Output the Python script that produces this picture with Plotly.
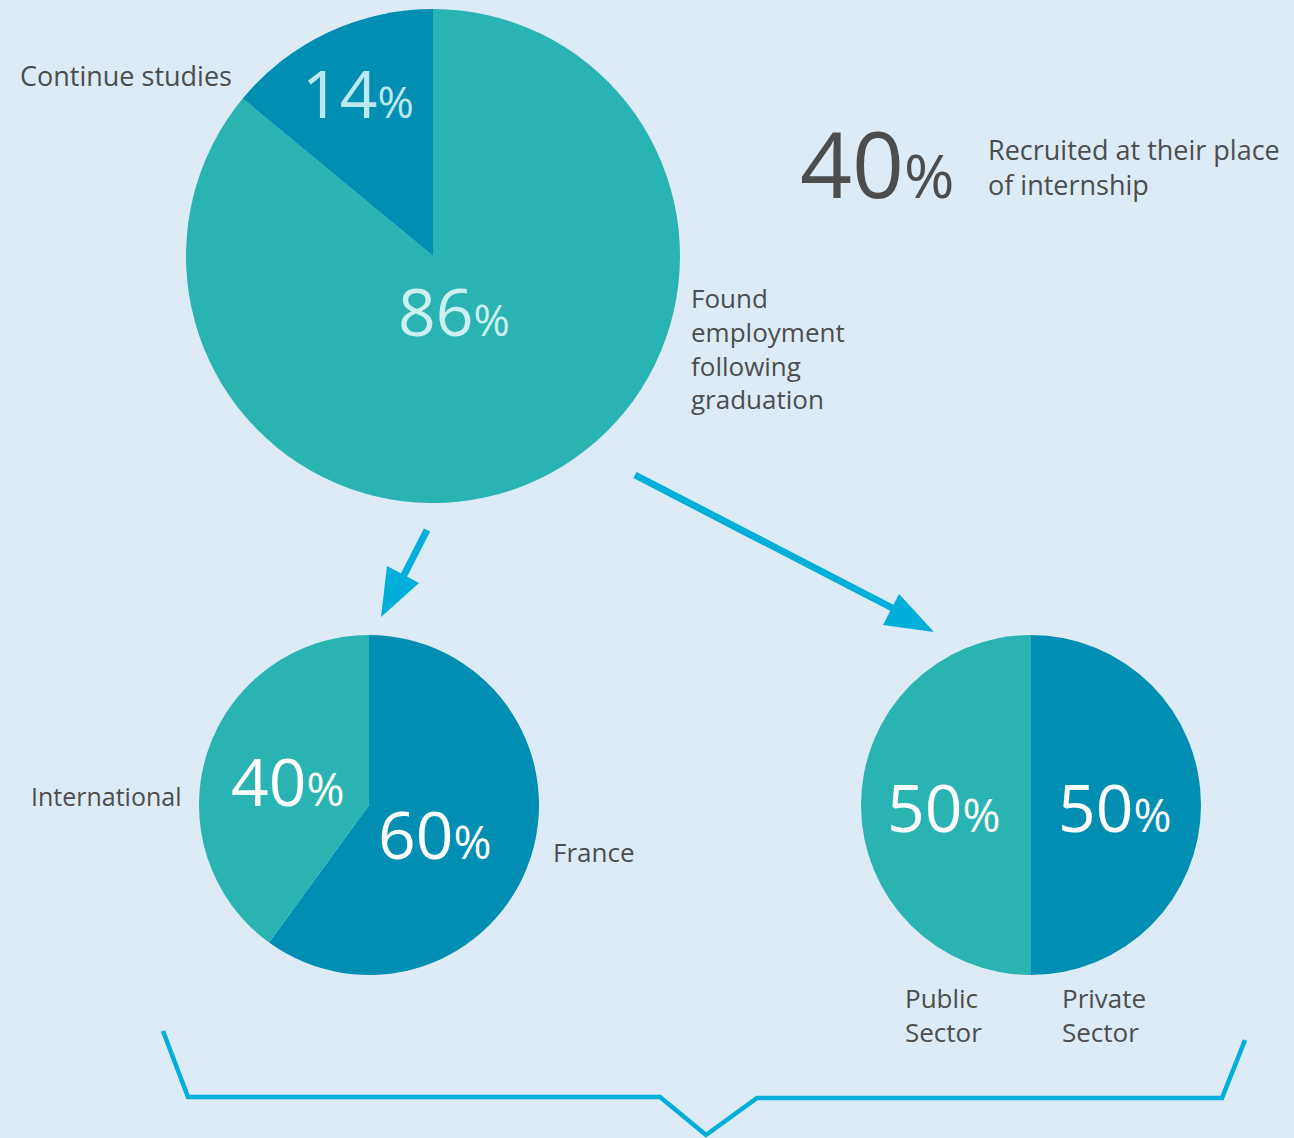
import plotly.graph_objects as go

W, H = 1294, 1138

# ---- data ----
outcome_labels = ["Found employment following graduation", "Continue studies"]
outcome_values = [86, 14]
location_labels = ["France", "International"]
location_values = [60, 40]
sector_labels = ["Private Sector", "Public Sector"]
sector_values = [50, 50]
recruited_pct = 40

TEAL = "#2AB3B3"
DARK = "#008EB2"
BG = "#DCEBF6"
ARROW = "#00AEDA"
TXT = "#4D4D4D"
FONT = "Open Sans"


def px(x):
    return x / W


def py(y):
    return 1 - y / H


fig = go.Figure()

common = dict(sort=False, textinfo="none", hoverinfo="skip", showlegend=False,
              direction="clockwise", rotation=0)

fig.add_trace(go.Pie(labels=outcome_labels, values=outcome_values,
                     marker=dict(colors=[TEAL, DARK], line=dict(width=0)),
                     domain=dict(x=[px(186), px(680)], y=[py(503), py(9)]), **common))
fig.add_trace(go.Pie(labels=location_labels, values=location_values,
                     marker=dict(colors=[DARK, TEAL], line=dict(width=0)),
                     domain=dict(x=[px(199), px(539)], y=[py(975), py(635)]), **common))
fig.add_trace(go.Pie(labels=sector_labels, values=sector_values,
                     marker=dict(colors=[DARK, TEAL], line=dict(width=0)),
                     domain=dict(x=[px(861), px(1201)], y=[py(975), py(635)]), **common))


def pct(v, big, small):
    return f"<span style='font-size:{big}px'>{v}</span><span style='font-size:{small}px'>%</span>"


def ann(x, y, text, size, color, xanchor="left", yanchor="middle", align="left"):
    fig.add_annotation(x=px(x), y=py(y), xref="paper", yref="paper", text=text,
                       showarrow=False, xanchor=xanchor, yanchor=yanchor, align=align,
                       font=dict(family=FONT, size=size, color=color))


# percentages in pies
ann(358, 92, pct(outcome_values[1], 66, 44), 66, "#BEE8F0", xanchor="center")
ann(454, 310, pct(outcome_values[0], 66, 44), 66, "#CDEFF0", xanchor="center")
ann(288, 780, pct(location_values[1], 66, 46), 66, "white", xanchor="center")
ann(435, 833, pct(location_values[0], 66, 46), 66, "white", xanchor="center")
ann(944, 806, pct(sector_values[1], 66, 46), 66, "white", xanchor="center")
ann(1115, 806, pct(sector_values[0], 66, 46), 66, "white", xanchor="center")

# big 40%
ann(877, 163, pct(recruited_pct, 91, 61), 91, TXT, xanchor="center")

# labels
ann(18, 75, outcome_labels[1], 27, TXT)
ann(689, 348, "Found<br>employment<br>following<br>graduation", 26, TXT)
ann(986, 167, "Recruited at their place<br>of internship", 27, TXT)
ann(184, 796, location_labels[1], 25, TXT, xanchor="right", align="right")
ann(551, 852, location_labels[0], 26, TXT)
ann(903, 1015, "Public<br>Sector", 26, TXT)
ann(1060, 1015, "Private<br>Sector", 26, TXT)

# arrows
shapes = []
shapes.append(dict(type="line", xref="paper", yref="paper",
                   x0=px(427), y0=py(530), x1=px(403), y1=py(577),
                   line=dict(color=ARROW, width=7)))
shapes.append(dict(type="path", xref="paper", yref="paper",
                   path=f"M {px(387)} {py(566)} L {px(419)} {py(583)} L {px(381)} {py(617)} Z",
                   fillcolor=ARROW, line=dict(width=0)))
shapes.append(dict(type="line", xref="paper", yref="paper",
                   x0=px(635), y0=py(475), x1=px(900), y1=py(612),
                   line=dict(color=ARROW, width=7)))
shapes.append(dict(type="path", xref="paper", yref="paper",
                   path=f"M {px(899)} {py(594)} L {px(883)} {py(625)} L {px(934)} {py(632)} Z",
                   fillcolor=ARROW, line=dict(width=0)))
# bracket
bx = [163, 188, 660, 706, 757, 1222, 1245]
by = [1031, 1097, 1097, 1135, 1098, 1098, 1040]
path = "M " + " L ".join(f"{px(a)} {py(b)}" for a, b in zip(bx, by))
shapes.append(dict(type="path", xref="paper", yref="paper", path=path,
                   line=dict(color=ARROW, width=4.5)))

fig.update_layout(width=W, height=H, margin=dict(l=0, r=0, t=0, b=0),
                  paper_bgcolor=BG, plot_bgcolor=BG, shapes=shapes,
                  font=dict(family=FONT))

fig.write_html("out.html", config={"displayModeBar": False},
               post_script="document.body.style.margin='0';document.body.style.overflow='hidden';")
